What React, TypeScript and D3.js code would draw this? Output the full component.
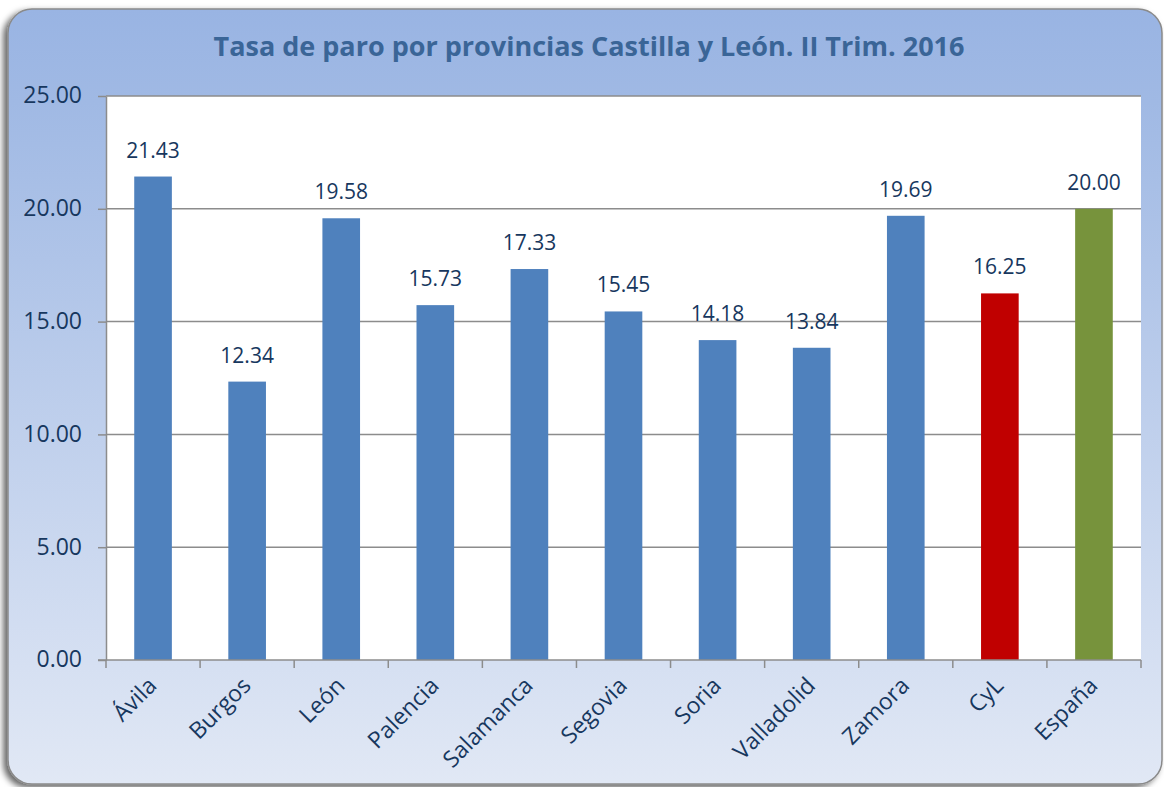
import React, { useEffect, useRef } from 'react';
import * as d3 from 'd3';

// chart data
const categories = ['Ávila', 'Burgos', 'León', 'Palencia', 'Salamanca', 'Segovia', 'Soria', 'Valladolid', 'Zamora', 'CyL', 'España'];
const values = [21.43, 12.34, 19.58, 15.73, 17.33, 15.45, 14.18, 13.84, 19.69, 16.25, 20.0];
const barColors = ['#4f81bd', '#4f81bd', '#4f81bd', '#4f81bd', '#4f81bd', '#4f81bd', '#4f81bd', '#4f81bd', '#4f81bd', '#c00000', '#77933c'];
const yTicks = [0, 5, 10, 15, 20, 25];
const title = 'Tasa de paro por provincias Castilla y León. II Trim. 2016';

const App = () => {
  const svgRef = useRef<SVGSVGElement>(null);
  const width = 1164;
  const height = 787;

  useEffect(() => {
    const svg = d3.select(svgRef.current);
    svg.selectAll('*').remove();

    const margin = { top: 96, right: 23, bottom: 127, left: 106 };
    const font = "'Open Sans', 'Liberation Sans', sans-serif";
    const textColor = '#17375e';

    const defs = svg.append('defs');
    const grad = defs.append('linearGradient')
      .attr('id', 'bg').attr('x1', 0).attr('y1', 0).attr('x2', 0).attr('y2', 1);
    grad.append('stop').attr('offset', '0%').attr('stop-color', '#99b4e3');
    grad.append('stop').attr('offset', '12%').attr('stop-color', '#a0b9e4');
    grad.append('stop').attr('offset', '100%').attr('stop-color', '#e1e8f5');

    const shadow = defs.append('filter').attr('id', 'shadow')
      .attr('x', '-5%').attr('y', '-5%').attr('width', '110%').attr('height', '110%');
    shadow.append('feDropShadow')
      .attr('dx', -4).attr('dy', 3).attr('stdDeviation', 3)
      .attr('flood-color', '#000').attr('flood-opacity', 0.6);

    // outer frame
    svg.append('rect')
      .attr('x', 8).attr('y', 9)
      .attr('width', 1154).attr('height', 775)
      .attr('rx', 24).attr('ry', 24)
      .attr('fill', 'url(#bg)')
      .attr('stroke', '#8a8a8a')
      .attr('stroke-width', 1.5)
      .attr('filter', 'url(#shadow)');

    // plot area
    svg.append('rect')
      .attr('x', margin.left).attr('y', margin.top)
      .attr('width', width - margin.left - margin.right)
      .attr('height', height - margin.top - margin.bottom)
      .attr('fill', '#fff');

    const x = d3.scaleBand()
      .domain(categories)
      .range([margin.left, width - margin.right])
      .paddingInner(0.6)
      .paddingOuter(0.3);

    const xBand = d3.scaleBand()
      .domain(categories)
      .range([margin.left, width - margin.right]);

    const y = d3.scaleLinear()
      .domain([0, 25])
      .range([height - margin.bottom, margin.top]);

    // gridlines
    svg.append('g')
      .selectAll('line')
      .data(yTicks.filter(d => d > 0))
      .enter()
      .append('line')
      .attr('x1', margin.left)
      .attr('x2', width - margin.right)
      .attr('y1', d => y(d))
      .attr('y2', d => y(d))
      .attr('stroke', '#8c8c8c')
      .attr('stroke-width', 1.5);

    // y axis
    const yAxis = svg.append('g')
      .attr('transform', `translate(${margin.left},0)`)
      .call(d3.axisLeft(y).tickValues(yTicks).tickSize(8).tickSizeOuter(0).tickPadding(16).tickFormat(d3.format('.2f')));
    yAxis.select('.domain').attr('stroke', '#8c8c8c').attr('stroke-width', 1.5);
    yAxis.selectAll('line').attr('stroke', '#8c8c8c').attr('stroke-width', 1.5);
    yAxis.selectAll('text')
      .attr('font-family', font)
      .attr('font-size', 23)
      .attr('dy', '0.3em')
      .attr('fill', textColor);

    // bars
    svg.selectAll('.bar')
      .data(values)
      .enter()
      .append('rect')
      .attr('class', 'bar')
      .attr('x', (d, i) => x(categories[i])!)
      .attr('y', d => y(d))
      .attr('width', x.bandwidth())
      .attr('height', d => y(0) - y(d))
      .attr('fill', (d, i) => barColors[i]);

    // value labels
    svg.selectAll('.val')
      .data(values)
      .enter()
      .append('text')
      .attr('class', 'val')
      .attr('x', (d, i) => x(categories[i])! + x.bandwidth() / 2)
      .attr('y', d => y(d) - 19)
      .attr('text-anchor', 'middle')
      .attr('font-family', font)
      .attr('font-size', 21)
      .attr('fill', textColor)
      .text(d => d.toFixed(2));

    // x axis
    const xAxisG = svg.append('g')
      .attr('transform', `translate(0,${height - margin.bottom})`);
    xAxisG.append('line')
      .attr('x1', margin.left - 8).attr('x2', width - margin.right)
      .attr('stroke', '#8c8c8c').attr('stroke-width', 1.5);
    const bounds = categories.map(c => xBand(c)!).concat([width - margin.right]);
    xAxisG.selectAll('.tick')
      .data(bounds)
      .enter()
      .append('line')
      .attr('x1', d => d).attr('x2', d => d)
      .attr('y1', 0).attr('y2', 8)
      .attr('stroke', '#8c8c8c').attr('stroke-width', 1.5);
    xAxisG.selectAll('.lbl')
      .data(categories)
      .enter()
      .append('text')
      .attr('text-anchor', 'end')
      .attr('transform', d => `translate(${xBand(d)! + xBand.bandwidth() / 2 + 5},${27}) rotate(-45)`)
      .attr('font-family', font)
      .attr('font-size', 23)
      .attr('fill', textColor)
      .text(d => d);

    // title
    svg.append('text')
      .attr('x', 589)
      .attr('y', 56)
      .attr('text-anchor', 'middle')
      .attr('font-family', font)
      .attr('font-weight', 'bold')
      .attr('font-size', 27)
      .attr('fill', '#3a6597')
      .text(title);
  }, []);

  return (
    <svg ref={svgRef} width={width} height={height} style={{ position: 'absolute', left: 0, top: 0 }}></svg>
  );
};

export default App;
